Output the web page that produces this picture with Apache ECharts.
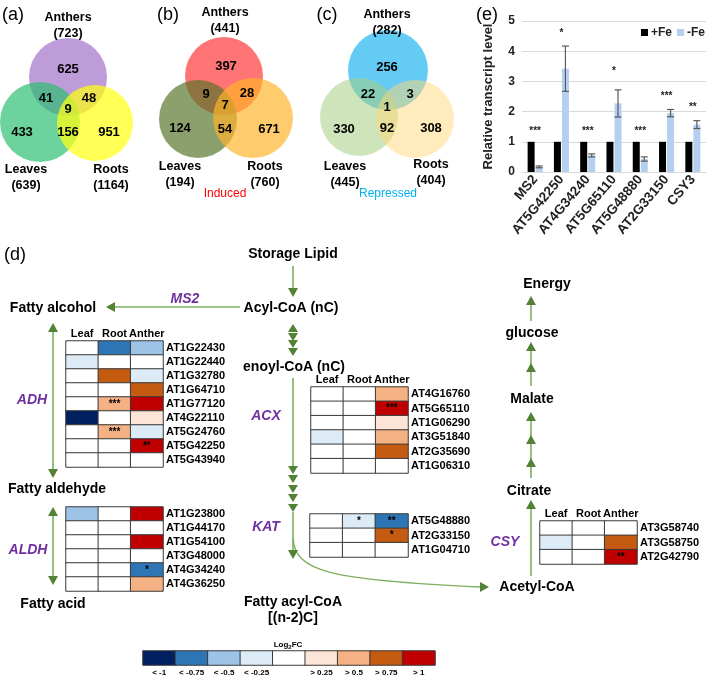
<!DOCTYPE html>
<html><head><meta charset="utf-8">
<script src="https://cdn.jsdelivr.net/npm/echarts@6/dist/echarts.min.js"></script>
<style>html,body{margin:0;padding:0;background:#fff}#c{width:709px;height:679px}</style>
</head><body><div id="c"></div>
<script>
// ---------------- DATA ----------------
// (e) bar chart
const barCategories = ['MS2','AT5G42250','AT4G34240','AT5G65110','AT5G48880','AT2G33150','CSY3'];
const seriesNames = ['+Fe','-Fe'];
const plusFe = [1,1,1,1,1,1,1];
const minusFe = [0.17,3.42,0.55,2.27,0.43,1.95,1.57];
const minusFeErr = [0.03,0.75,0.05,0.45,0.07,0.12,0.13];
const barStars = ['***','*','***','*','***','***','**'];
const barStarY = [1.35,4.6,1.35,3.35,1.35,2.5,2.15];
const yTicks = [0,1,2,3,4,5];

// Venn diagrams: totals [Anthers, Leaves, Roots]; regions [A, A∩L, A∩R, A∩L∩R, L, L∩R, R]
const vennSets = ['Anthers','Leaves','Roots'];
const vennA_totals = [723,639,1164];
const vennA_regions = [625,41,48,9,433,156,951];
const vennB_totals = [441,194,760];
const vennB_regions = [397,9,28,7,124,54,671];
const vennC_totals = [282,445,404];
const vennC_regions = [256,22,3,1,330,92,308];

// (d) heatmaps, log2FC per gene [Leaf, Root, Anther]
const tissues = ['Leaf','Root','Anther'];
const adhGenes = ['AT1G22430','AT1G22440','AT1G32780','AT1G64710','AT1G77120','AT4G22110','AT5G24760','AT5G42250','AT5G43940'];
const adhFC = [[0,-0.85,-0.6],[-0.35,0,0],[0,0.85,-0.35],[0,0,0.85],[0,0.6,1.2],[-1.2,0,0.35],[0,0.6,-0.35],[0,0,1.2],[0,0,0]];
const adhStars = [['','',''],['','',''],['','',''],['','',''],['','***',''],['','',''],['','***',''],['','','**'],['','','']];
const aldhGenes = ['AT1G23800','AT1G44170','AT1G54100','AT3G48000','AT4G34240','AT4G36250'];
const aldhFC = [[-0.6,0,1.2],[0,0,0],[0,0,1.2],[0,0,0],[0,0,-0.85],[0,0,0.6]];
const aldhStars = [['','',''],['','',''],['','',''],['','',''],['','','*'],['','','']];
const acxGenes = ['AT4G16760','AT5G65110','AT1G06290','AT3G51840','AT2G35690','AT1G06310'];
const acxFC = [[0,0,0.6],[0,0,1.2],[0,0,0.35],[-0.35,0,0.6],[0,0,0.85],[0,0,0]];
const acxStars = [['','',''],['','','***'],['','',''],['','',''],['','',''],['','','']];
const katGenes = ['AT5G48880','AT2G33150','AT1G04710'];
const katFC = [[0,-0.35,-0.85],[0,0,0.85],[0,0,0]];
const katStars = [['','*','**'],['','','*'],['','','']];
const csyGenes = ['AT3G58740','AT3G58750','AT2G42790'];
const csyFC = [[0,0,0],[-0.35,0,0.85],[0,0,1.2]];
const csyStars = [['','',''],['','',''],['','','**']];

// colour legend
const legendLabels = ['< -1','< -0.75','< -0.5','< -0.25','','> 0.25','> 0.5','> 0.75','> 1'];
const legendValues = [-1.2,-0.85,-0.6,-0.35,0,0.35,0.6,0.85,1.2];

// ---------------- CHART ----------------
const FONT = 'Liberation Sans, Arial, sans-serif';
const chart = echarts.init(document.getElementById('c'), null, {renderer:'canvas'});

const pieces = [
  {lt:-1, color:'#002060'},
  {gte:-1, lt:-0.75, color:'#2e75b6'},
  {gte:-0.75, lt:-0.5, color:'#9dc3e6'},
  {gte:-0.5, lt:-0.25, color:'#ddebf7'},
  {gte:-0.25, lte:0.25, color:'#ffffff'},
  {gt:0.25, lte:0.5, color:'#fce4d6'},
  {gt:0.5, lte:0.75, color:'#f4b183'},
  {gt:0.75, lte:1, color:'#c55a11'},
  {gt:1, color:'#c00000'}
];
const BAR_COLORS = ['#000000','#b4d0ee'];

const heatDefs = [
  {genes:adhGenes, fc:adhFC, stars:adhStars, grid:{left:66, top:341, width:97, height:126}, header:true},
  {genes:aldhGenes, fc:aldhFC, stars:aldhStars, grid:{left:66, top:507, width:97, height:84}, header:false},
  {genes:acxGenes, fc:acxFC, stars:acxStars, grid:{left:311, top:387, width:97, height:86}, header:true},
  {genes:katGenes, fc:katFC, stars:katStars, grid:{left:310, top:514, width:98, height:43}, header:false},
  {genes:csyGenes, fc:csyFC, stars:csyStars, grid:{left:540, top:521, width:97, height:43}, header:true}
];

const grids = [{left:522, top:21, width:184, height:151}];
const xAxes = [{
  type:'category', gridIndex:0, data:barCategories,
  axisLine:{lineStyle:{color:'#d9d9d9'}}, axisTick:{show:false},
  axisLabel:{rotate:50, fontWeight:'bold', fontSize:13.5, color:'#222', margin:5, interval:0, fontFamily:FONT}
}];
const yAxes = [{
  type:'value', gridIndex:0, min:0, max:5, interval:1,
  name:'Relative transcript level', nameLocation:'middle', nameRotate:90, nameGap:27,
  nameTextStyle:{fontWeight:'bold', fontSize:13, color:'#222', fontFamily:FONT},
  axisLine:{show:false}, axisTick:{show:false},
  axisLabel:{fontWeight:'bold', fontSize:12, color:'#222', margin:7, fontFamily:FONT, customValues: yTicks},
  splitLine:{lineStyle:{color:'#d9d9d9'}}
}];
const series = [
  {name:seriesNames[0], type:'bar', xAxisIndex:0, yAxisIndex:0, data:plusFe, barWidth:7, barGap:'15%', itemStyle:{color:BAR_COLORS[0]}},
  {name:seriesNames[1], type:'bar', xAxisIndex:0, yAxisIndex:0, data:minusFe, barWidth:7, barGap:'15%', itemStyle:{color:BAR_COLORS[1]}},
  {type:'custom', xAxisIndex:0, yAxisIndex:0, z:5,
    data: minusFe.map((v,i)=>[i, v, minusFeErr[i]]),
    renderItem:(params, api)=>{
      const i = api.value(0), v = api.value(1), e = api.value(2);
      const hi = api.coord([i, v+e]), lo = api.coord([i, v-e]);
      const cx = hi[0] + 4, cap = 3.5;
      const st = {stroke:'#5a5a5a', lineWidth:1.2};
      return {type:'group', children:[
        {type:'line', shape:{x1:cx, y1:hi[1], x2:cx, y2:lo[1]}, style:st},
        {type:'line', shape:{x1:cx-cap, y1:hi[1], x2:cx+cap, y2:hi[1]}, style:st},
        {type:'line', shape:{x1:cx-cap, y1:lo[1], x2:cx+cap, y2:lo[1]}, style:st}
      ]};
    }
  },
  {type:'custom', xAxisIndex:0, yAxisIndex:0, z:6,
    data: barStarY.map((y,i)=>[i, y]),
    renderItem:(params, api)=>{
      const p = api.coord([api.value(0), api.value(1)]);
      return {type:'text', x:p[0], y:p[1], style:{text:barStars[params.dataIndex], fontSize:10, fontWeight:'bold', fill:'#222', fontFamily:FONT, align:'center', verticalAlign:'middle'}};
    }
  }
];

const heatSeriesIdx = [];
heatDefs.forEach((h, k)=>{
  const gi = k + 1;
  grids.push(h.grid);
  xAxes.push({type:'category', gridIndex:gi, data:tissues, position:'top',
    axisLine:{show:false}, axisTick:{show:false}, splitLine:{show:false},
    axisLabel:{show:h.header, interval:0, fontWeight:'bold', fontSize:11, color:'#000', margin:2, fontFamily:FONT}});
  yAxes.push({type:'category', gridIndex:gi, data:h.genes, inverse:true, position:'right',
    axisLine:{show:false}, axisTick:{show:false}, splitLine:{show:false},
    axisLabel:{interval:0, fontWeight:'bold', fontSize:11, color:'#000', margin:3, fontFamily:FONT}});
  const data = [];
  h.genes.forEach((g,i)=>tissues.forEach((t,j)=>data.push([j, i, h.fc[i][j], h.stars[i][j]])));
  heatSeriesIdx.push(series.length);
  series.push({type:'heatmap', xAxisIndex:gi, yAxisIndex:gi, data,
    itemStyle:{borderColor:'#3a3a3a', borderWidth:1},
    label:{show:true, formatter:p=>p.data[3], fontSize:10, fontWeight:'bold', color:'#000', fontFamily:FONT}
  });
});
// colour legend
const lg = grids.length;
grids.push({left:143, top:651, width:292, height:14});
xAxes.push({type:'category', gridIndex:lg, data:legendLabels, position:'bottom',
  axisLine:{show:false}, axisTick:{show:false},
  axisLabel:{fontWeight:'bold', fontSize:8, color:'#000', margin:4, interval:0, fontFamily:FONT}});
yAxes.push({type:'category', gridIndex:lg, data:['Log2FC'], show:false});
heatSeriesIdx.push(series.length);
series.push({type:'heatmap', xAxisIndex:lg, yAxisIndex:lg,
  data: legendValues.map((v,j)=>[j,0,v,'']),
  itemStyle:{borderColor:'#3a3a3a', borderWidth:1}, label:{show:false}});

// ---------------- GRAPHIC (Venn + pathway) ----------------
const graphic = [];
function txt(x, y, text, size, opts={}){
  graphic.push({type:'text', x, y, z:20, style:Object.assign({text, fontSize:size, fontWeight:opts.weight||'bold',
    fontStyle:opts.style||'normal', fontFamily:FONT, fill:opts.color||'#000', align:opts.align||'center', verticalAlign:'middle'}, opts.extra||{})});
}
function circ(cx, cy, r, color){
  graphic.push({type:'circle', shape:{cx, cy, r}, z:10, style:{fill:color}});
}
function venn(d){
  d.circles.forEach((c,i)=>circ(c[0], c[1], c[2], d.colors[i]));
  d.regions.forEach((v,i)=>txt(d.pos[i][0], d.pos[i][1], String(v), 13));
  vennSets.forEach((s,i)=>{
    txt(d.lab[i][0], d.lab[i][1], s, 12.5);
    txt(d.lab[i][0], d.lab[i][1]+16, '('+d.totals[i]+')', 12.5);
  });
}
venn({totals:vennA_totals, regions:vennA_regions,
  circles:[[68,77,39],[40,122,40],[95,123,38]],
  colors:['rgba(150,95,195,0.62)','rgba(40,190,110,0.68)','rgba(255,255,20,0.72)'],
  pos:[[68,69],[46,98],[89,98],[68,109],[22,132],[68,132],[109,132]],
  lab:[[68,18],[26,170],[111,170]]});
venn({totals:vennB_totals, regions:vennB_regions,
  circles:[[224,76,39],[198,119,39],[253,118,40]],
  colors:['rgba(255,50,50,0.68)','rgba(85,115,40,0.68)','rgba(255,180,40,0.68)'],
  pos:[[226,66],[206,94],[247,93],[225,105],[180,128],[225,129],[269,129]],
  lab:[[225,13],[180,167],[265,167]]});
venn({totals:vennC_totals, regions:vennC_regions,
  circles:[[388,70,40],[359,117,39],[415,119,39]],
  colors:['rgba(40,185,240,0.72)','rgba(165,205,130,0.55)','rgba(255,215,120,0.5)'],
  pos:[[387,67],[368,94],[410,94],[387,107],[344,129],[387,128],[431,128]],
  lab:[[387,15],[345,167],[431,165]]});
txt(225,194,'Induced',12,{weight:'normal', color:'#ff0000'});
txt(388,194,'Repressed',12,{weight:'normal', color:'#00b0f0'});
txt(13,15,'(a)',18,{weight:'normal'});
txt(168,15,'(b)',18,{weight:'normal'});
txt(327,15,'(c)',18,{weight:'normal'});
txt(487,15,'(e)',18,{weight:'normal'});
txt(15,255,'(d)',18,{weight:'normal'});

// bar legend
[[641,0],[677,1]].forEach(([x,k])=>{
  graphic.push({type:'rect', z:20, shape:{x:x, y:29, width:7, height:7}, style:{fill:BAR_COLORS[k]}});
  txt(x+10, 32.5, seriesNames[k], 12, {align:'left', color:'#222'});
});

// pathway
const GH = '#548235', GL = '#7fae5f';
function ln(x1,y1,x2,y2){ graphic.push({type:'line', z:15, shape:{x1,y1,x2,y2}, style:{stroke:GL, lineWidth:1.6}}); }
function hd(x,y,dir,w=10,h=9){
  let pts;
  if(dir==='down') pts=[[x,y],[x-w/2,y-h],[x+w/2,y-h]];
  else if(dir==='up') pts=[[x,y],[x-w/2,y+h],[x+w/2,y+h]];
  else if(dir==='left') pts=[[x,y],[x+h,y-w/2],[x+h,y+w/2]];
  else pts=[[x,y],[x-h,y-w/2],[x-h,y+w/2]];
  graphic.push({type:'polygon', z:16, shape:{points:pts}, style:{fill:GH}});
}
const P = '#7030a0';
txt(293,254,'Storage Lipid',14);
ln(293,266,293,290); hd(293,297,'down');
txt(291,308,'Acyl-CoA (nC)',14);
ln(240,307,114,307); hd(106,307,'left');
txt(185,299,'MS2',14,{style:'italic', color:P});
txt(53,308,'Fatty alcohol',14);
hd(293,324,'up',10,8); hd(293,341,'down',10,8); hd(293,348,'down',10,8); hd(293,356,'down',10,8);
txt(294,367,'enoyl-CoA (nC)',14);
ln(293,378,293,468);
[474,483,493,502,512].forEach(t=>hd(293,t,'down',10,8));
ln(293,512,293,552); hd(293,559,'down');
txt(266,416,'ACX',14,{style:'italic', color:P});
txt(266,527,'KAT',14,{style:'italic', color:P});
txt(293,602,'Fatty acyl-CoA',14);
txt(293,618,'[(n-2)C]',14);
graphic.push({type:'bezierCurve', z:15, shape:{x1:293,y1:538,cpx1:295,cpy1:572,cpx2:330,cpy2:580,x2:480,y2:587}, style:{stroke:GL, lineWidth:1.4, fill:null}});
hd(489,587,'right');
txt(537,587,'Acetyl-CoA',14);
ln(531,576,531,507); hd(531,500,'up');
txt(505,542,'CSY',14,{style:'italic', color:P});
txt(529,491,'Citrate',14);
ln(531,478,531,418); [458,435,412].forEach(t=>hd(531,t,'up'));
txt(532,399,'Malate',14);
ln(531,386,531,348); [363,342].forEach(t=>hd(531,t,'up'));
txt(532,333,'glucose',14);
ln(531,321,531,302); hd(531,296,'up');
txt(547,284,'Energy',14);
// ADH / ALDH
ln(53,331,53,470); hd(53,323,'up'); hd(53,478,'down');
txt(32,400,'ADH',14,{style:'italic', color:P});
txt(57,489,'Fatty aldehyde',14);
ln(53,515,53,577); hd(53,507,'up'); hd(53,585,'down');
txt(28,550,'ALDH',14,{style:'italic', color:P});
txt(53,604,'Fatty acid',14);
// legend title
graphic.push({type:'text', x:288, y:645, z:20, style:{text:'Log{s|2}FC', fontSize:8, fontWeight:'bold', fontFamily:FONT, fill:'#000', align:'center', verticalAlign:'middle',
  rich:{s:{fontSize:6, fontWeight:'bold', verticalAlign:'bottom', padding:[4,0,0,0]}}}});

chart.setOption({
  animation:false,
  backgroundColor:'#fff',
  textStyle:{fontFamily:FONT},
  grid:grids, xAxis:xAxes, yAxis:yAxes,
  visualMap:{type:'piecewise', show:false, dimension:2, seriesIndex:heatSeriesIdx, pieces},
  series, graphic
});
</script></body></html>
